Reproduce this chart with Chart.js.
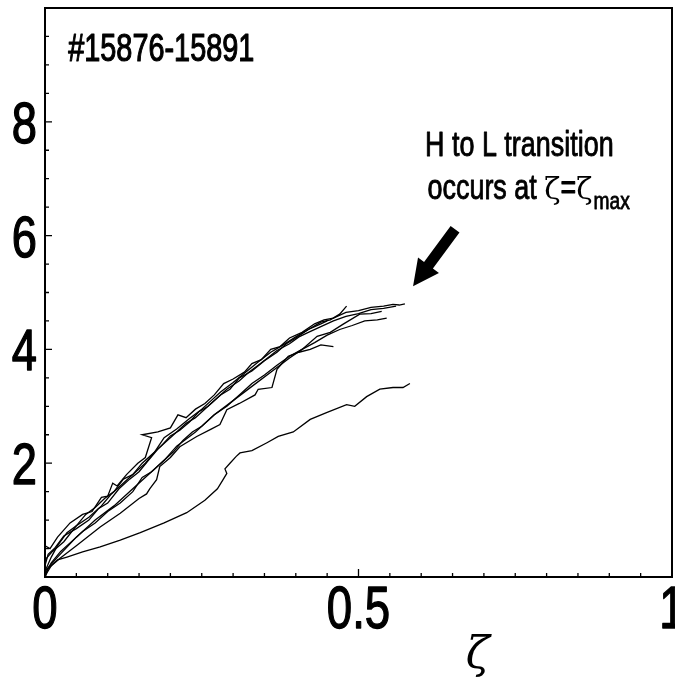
<!DOCTYPE html>
<html>
<head>
<meta charset="utf-8">
<script src="https://cdn.jsdelivr.net/npm/chart.js@4.4.1/dist/chart.umd.min.js"></script>
<style>
  html, body { margin: 0; padding: 0; background: #fff; }
  #wrap { width: 675px; height: 683px; }
</style>
</head>
<body>
<div id="wrap"><canvas id="myChart" width="675" height="683"></canvas></div>
<script>
'use strict';
// zeta traces for shots #15876-15891

var xTickLabels = ['0', '0.5', '1'];
var yTickLabels = ['2', '4', '6', '8'];

// lowest trace
var aX = [0, 0.003, 0.01, 0.02, 0.035, 0.06, 0.088, 0.12, 0.152, 0.19, 0.226, 0.255, 0.275, 0.284, 0.29, 0.287, 0.295, 0.305, 0.311, 0.33, 0.354, 0.372, 0.396, 0.423, 0.449, 0.481, 0.494, 0.513, 0.534, 0.555, 0.571, 0.582];
var aY = [0, 0.07, 0.2, 0.3, 0.35, 0.44, 0.53, 0.65, 0.78, 0.95, 1.13, 1.35, 1.55, 1.71, 1.82, 1.9, 2.0, 2.12, 2.18, 2.22, 2.36, 2.47, 2.55, 2.77, 2.89, 3.03, 3.0, 3.17, 3.3, 3.33, 3.33, 3.4];
// second lowest, stops early
var bX = [0, 0.005, 0.024, 0.05, 0.088, 0.12, 0.15, 0.162, 0.167, 0.178, 0.183, 0.2, 0.215, 0.242, 0.265, 0.279, 0.29, 0.31, 0.335, 0.34, 0.362, 0.37, 0.388, 0.405, 0.423, 0.44, 0.46];
var bY = [0, 0.15, 0.33, 0.55, 0.88, 1.12, 1.38, 1.46, 1.55, 1.71, 1.94, 2.1, 2.29, 2.47, 2.6, 2.68, 2.94, 3.05, 3.2, 3.3, 3.33, 3.65, 3.88, 3.95, 4.0, 4.08, 4.05];
// just under the bundle
var cX = [0, 0.02, 0.05, 0.08, 0.11, 0.14, 0.17, 0.19, 0.21, 0.24, 0.27, 0.3, 0.33, 0.36, 0.39, 0.41, 0.434, 0.455, 0.475, 0.502, 0.52, 0.537];
var cY = [0.1, 0.35, 0.7, 1.0, 1.25, 1.55, 1.85, 2.05, 2.3, 2.55, 2.85, 3.1, 3.35, 3.6, 3.85, 4.0, 4.23, 4.3, 4.44, 4.62, 4.63, 4.67];
// the main bundle
var dX = [0, 0.008, 0.02, 0.04, 0.06, 0.075, 0.09, 0.1, 0.108, 0.115, 0.13, 0.148, 0.16, 0.17, 0.155, 0.18, 0.2, 0.212, 0.225, 0.24, 0.255, 0.27, 0.285, 0.3, 0.318, 0.33, 0.345, 0.36, 0.375, 0.39, 0.41, 0.43, 0.445, 0.46, 0.48, 0.5, 0.52, 0.54, 0.555, 0.565, 0.574];
var dY = [0.55, 0.5, 0.7, 0.95, 1.1, 1.15, 1.4, 1.42, 1.65, 1.6, 1.8, 2.0, 2.1, 2.45, 2.5, 2.55, 2.62, 2.85, 2.8, 2.95, 3.05, 3.2, 3.4, 3.48, 3.6, 3.75, 3.82, 4.0, 4.05, 4.2, 4.3, 4.45, 4.52, 4.55, 4.65, 4.68, 4.74, 4.76, 4.79, 4.78, 4.8];
var eX = [0, 0.005, 0.015, 0.03, 0.05, 0.07, 0.085, 0.1, 0.118, 0.135, 0.15, 0.165, 0.18, 0.195, 0.21, 0.225, 0.24, 0.26, 0.275, 0.29, 0.31, 0.325, 0.34, 0.355, 0.37, 0.39, 0.405, 0.42, 0.44, 0.46, 0.48, 0.5, 0.52, 0.54, 0.56];
var eY = [0.2, 0.4, 0.5, 0.72, 0.85, 1.0, 1.2, 1.3, 1.55, 1.72, 1.85, 2.05, 2.25, 2.4, 2.55, 2.7, 2.8, 3.0, 3.15, 3.3, 3.45, 3.6, 3.72, 3.85, 3.98, 4.1, 4.22, 4.3, 4.4, 4.5, 4.58, 4.63, 4.7, 4.72, 4.76];
var fX = [0, 0.01, 0.02, 0.035, 0.05, 0.065, 0.08, 0.095, 0.11, 0.125, 0.14, 0.155, 0.17, 0.185, 0.2, 0.215, 0.23, 0.245, 0.26, 0.28, 0.295, 0.31, 0.33, 0.35, 0.37, 0.385, 0.4, 0.42, 0.44, 0.455, 0.47, 0.481];
var fY = [0.1, 0.35, 0.55, 0.78, 0.9, 1.1, 1.22, 1.38, 1.5, 1.72, 1.8, 2.0, 2.15, 2.3, 2.48, 2.58, 2.72, 2.9, 3.0, 3.2, 3.3, 3.5, 3.62, 3.8, 3.95, 4.1, 4.2, 4.35, 4.48, 4.52, 4.62, 4.76];
var gX = [0, 0.01, 0.025, 0.04, 0.06, 0.08, 0.1, 0.12, 0.14, 0.155, 0.17, 0.19, 0.205, 0.22, 0.235, 0.25, 0.27, 0.29, 0.31, 0.33, 0.35, 0.37, 0.39, 0.41, 0.43, 0.45, 0.47, 0.49, 0.51, 0.53, 0.545];
var gY = [0.05, 0.25, 0.45, 0.6, 0.8, 0.95, 1.15, 1.3, 1.5, 1.75, 1.85, 2.05, 2.2, 2.4, 2.55, 2.65, 2.85, 3.0, 3.2, 3.4, 3.55, 3.72, 3.88, 4.0, 4.12, 4.25, 4.35, 4.42, 4.5, 4.52, 4.55];
var hX = [0, 0.012, 0.03, 0.05, 0.07, 0.09, 0.105, 0.12, 0.14, 0.16, 0.175, 0.19, 0.21, 0.23, 0.25, 0.265, 0.28, 0.3, 0.32, 0.34, 0.36, 0.38, 0.4, 0.42, 0.44, 0.45];
var hY = [0.3, 0.45, 0.62, 0.9, 1.05, 1.25, 1.45, 1.6, 1.8, 2.0, 2.2, 2.45, 2.6, 2.78, 2.95, 3.1, 3.25, 3.42, 3.6, 3.78, 3.95, 4.08, 4.22, 4.35, 4.45, 4.5];

var traces = [[aX, aY], [bX, bY], [cX, cY], [dX, dY], [eX, eY], [fX, fY], [gX, gY], [hX, hY]];

// arrow tail and tip, in data units
var arrowTail = [0.654, 6.11];
var arrowTip = [0.587, 5.11];

var SANS = "'Liberation Sans', Arial, sans-serif";
var SERIF = "'DejaVu Serif', serif";

function toPoints(xs, ys) {
  var pts = [];
  for (var i = 0; i < xs.length; i++) {
    pts.push({ x: xs[i], y: ys[i] });
  }
  return pts;
}

var datasets = traces.map(function(t) {
  return {
    data: toPoints(t[0], t[1]),
    showLine: true,
    borderColor: '#000',
    borderWidth: 1.3,
    pointRadius: 0,
    tension: 0,
    fill: false
  };
});

// helvetica-narrow look: squeeze liberation sans sideways, thicken a bit
function narrowText(ctx, text, x, y, size, squeeze, align, weight) {
  ctx.save();
  ctx.translate(x, y);
  ctx.scale(squeeze, 1);
  ctx.font = size + 'px ' + SANS;
  ctx.textAlign = align || 'left';
  ctx.textBaseline = 'alphabetic';
  ctx.lineJoin = 'round';
  ctx.lineWidth = weight || 1;
  ctx.fillText(text, 0, 0);
  ctx.strokeText(text, 0, 0);
  var w = ctx.measureText(text).width * squeeze;
  ctx.restore();
  return w;
}

// frame, inward ticks, tick labels, annotation text and arrow
var decor = {
  id: 'decor',
  afterDraw: function(chart) {
    var ctx = chart.ctx;
    var xs = chart.scales.x;
    var ys = chart.scales.y;
    var a = chart.chartArea;
    ctx.save();
    ctx.strokeStyle = '#000';
    ctx.fillStyle = '#000';
    ctx.lineWidth = 2;
    ctx.strokeRect(a.left, a.top, a.right - a.left, a.bottom - a.top);

    ctx.lineWidth = 1.3;
    ctx.beginPath();
    for (var i = 1; i < 20; i++) {
      var px = xs.getPixelForValue(i * 0.05);
      var len = (i === 10) ? 8 : 4;
      ctx.moveTo(px, a.bottom);
      ctx.lineTo(px, a.bottom - len);
    }
    for (var j = 1; j < 20; j++) {
      var py = ys.getPixelForValue(j * 0.5);
      var l2 = (j % 4 === 0) ? 7 : 4;
      ctx.moveTo(a.left, py);
      ctx.lineTo(a.left + l2, py);
    }
    ctx.stroke();

    // tick labels from the scales' own ticks
    xs.ticks.forEach(function(t) {
      var s = String(Math.round(t.value * 10) / 10);
      if (xTickLabels.indexOf(s) === -1) return;
      narrowText(ctx, s, xs.getPixelForValue(t.value), a.bottom + 51, 60, 0.76, 'center', 1.4);
    });
    ys.ticks.forEach(function(t) {
      var s = String(t.value);
      if (yTickLabels.indexOf(s) === -1) return;
      narrowText(ctx, s, a.left - 8, ys.getPixelForValue(t.value) + 21, 58, 0.78, 'right', 1.4);
    });

    // shot numbers
    narrowText(ctx, '#15876-15891', xs.getPixelForValue(0.037), ys.getPixelForValue(9.07), 39, 0.74, 'left', 1.2);

    // annotation
    narrowText(ctx, 'H to L transition', xs.getPixelForValue(0.606), ys.getPixelForValue(7.4), 35, 0.77, 'left', 0.9);
    var by = ys.getPixelForValue(6.64);
    var x0 = xs.getPixelForValue(0.61);
    x0 += narrowText(ctx, 'occurs at ', x0, by, 35, 0.77, 'left', 0.9);
    ctx.font = '30px ' + SERIF;
    ctx.textAlign = 'left';
    ctx.fillText('\u03b6', x0, by);
    x0 += ctx.measureText('\u03b6').width;
    x0 += narrowText(ctx, '=', x0, by, 35, 0.77, 'left', 0.9);
    ctx.font = '30px ' + SERIF;
    ctx.fillText('\u03b6', x0, by);
    x0 += ctx.measureText('\u03b6').width;
    narrowText(ctx, 'max', x0 + 1, by + 10, 24, 0.8, 'left', 0.8);

    // arrow
    var ax = xs.getPixelForValue(arrowTail[0]);
    var ay = ys.getPixelForValue(arrowTail[1]);
    var bx = xs.getPixelForValue(arrowTip[0]);
    var byy = ys.getPixelForValue(arrowTip[1]);
    var ang = Math.atan2(byy - ay, bx - ax);
    var lenA = Math.hypot(bx - ax, byy - ay);
    ctx.save();
    ctx.translate(ax, ay);
    ctx.rotate(ang);
    var head = 26, hw = 13, sw = 5.5;
    ctx.beginPath();
    ctx.moveTo(0, -sw);
    ctx.lineTo(lenA - head, -sw);
    ctx.lineTo(lenA - head, -hw);
    ctx.lineTo(lenA, 0);
    ctx.lineTo(lenA - head, hw);
    ctx.lineTo(lenA - head, sw);
    ctx.lineTo(0, sw);
    ctx.closePath();
    ctx.fill();
    ctx.restore();

    // axis symbol
    ctx.font = 'italic 44px ' + SERIF;
    ctx.textAlign = 'center';
    ctx.fillText('\u03b6', xs.getPixelForValue(0.69), 668);
    ctx.restore();
  }
};

var ctx = document.getElementById('myChart').getContext('2d');
new Chart(ctx, {
  type: 'scatter',
  data: { datasets: datasets },
  options: {
    responsive: false,
    animation: false,
    events: [],
    layout: { padding: { top: 8, right: 3, left: 0, bottom: 0 } },
    plugins: { legend: { display: false }, tooltip: { enabled: false } },
    scales: {
      x: {
        type: 'linear',
        min: 0,
        max: 1,
        grid: { display: false, drawTicks: false },
        border: { display: false },
        ticks: { stepSize: 0.5, autoSkip: false, display: false },
        afterFit: function(s) {
          s.height = 106;
          s.paddingLeft = 0;
          s.paddingRight = 0;
        }
      },
      y: {
        type: 'linear',
        min: 0,
        max: 10,
        grid: { display: false, drawTicks: false },
        border: { display: false },
        ticks: { stepSize: 2, display: false },
        afterFit: function(s) {
          s.width = 45;
          s.paddingTop = 0;
          s.paddingBottom = 0;
        }
      }
    }
  },
  plugins: [decor]
});
</script>
</body>
</html>
